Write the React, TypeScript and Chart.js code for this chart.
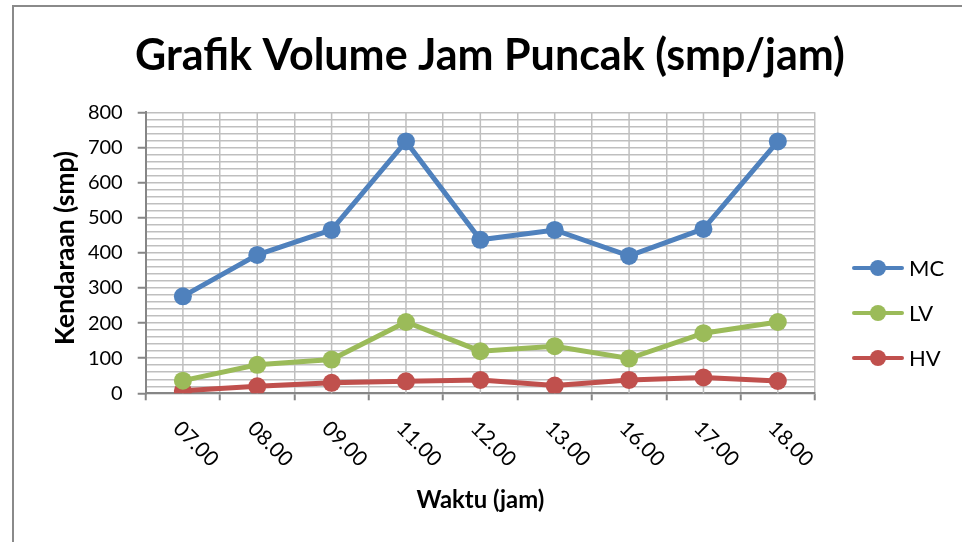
import React, { useEffect, useRef } from "react";
import { Chart, registerables } from "chart.js";

Chart.register(...registerables);

// ---- data ----
const categories = ["07.00", "08.00", "09.00", "11.00", "12.00", "13.00", "16.00", "17.00", "18.00"];
const mcValues = [276, 394, 465, 717, 437, 465, 391, 468, 717];
const lvValues = [36, 81, 96, 203, 120, 134, 99, 171, 203];
const hvValues = [7, 20, 30, 34, 38, 22, 38, 45, 35];
const seriesNames = ["MC", "LV", "HV"];
const seriesColors = ["#4F81BD", "#9BBB59", "#C0504D"];
const yTickLabels = [0, 100, 200, 300, 400, 500, 600, 700, 800];
const titleText = "Grafik Volume Jam Puncak (smp/jam)";
const xTitleText = "Waktu (jam)";
const yTitleText = "Kendaraan (smp)";

// ---- styles ----
const FONT = "Lato, 'Open Sans', sans-serif";
const GRID = "#bfbfbf";
const AXIS = "#868686";
const W = 962;
const H = 542;

function fitSize(ctx: CanvasRenderingContext2D, text: string, weight: string, target: number) {
  ctx.font = `${weight} 40px ${FONT}`;
  const w = ctx.measureText(text).width;
  return (40 * target) / w;
}

const decor = {
  id: "decor",
  beforeDraw(chart: any) {
    const ctx = chart.ctx;
    ctx.save();
    ctx.fillStyle = "#ffffff";
    ctx.fillRect(0, 0, chart.width, chart.height);
    ctx.restore();
  },
  beforeDatasetsDraw(chart: any) {
    const { ctx, chartArea } = chart;
    const x = chart.scales.x;
    ctx.save();
    ctx.strokeStyle = GRID;
    ctx.lineWidth = 1.5;
    categories.forEach((_, i) => {
      const px = x.getPixelForValue(i);
      ctx.beginPath();
      ctx.moveTo(px, chartArea.top);
      ctx.lineTo(px, chartArea.bottom);
      ctx.stroke();
    });
    ctx.restore();
  },
  afterDraw(chart: any) {
    const { ctx, chartArea } = chart;
    const x = chart.scales.x;
    ctx.save();

    // outer frame
    ctx.strokeStyle = "#8a8a8a";
    ctx.lineWidth = 2;
    ctx.beginPath();
    ctx.moveTo(13, H + 2);
    ctx.lineTo(13, 6);
    ctx.lineTo(W + 2, 6);
    ctx.stroke();

    ctx.fillStyle = "#000000";

    // title
    const ts = fitSize(ctx, titleText, "bold", 710);
    ctx.font = `bold ${ts}px ${FONT}`;
    ctx.textAlign = "center";
    ctx.textBaseline = "middle";
    ctx.fillText(titleText, 490, 56);

    // x axis title
    const xs = fitSize(ctx, xTitleText, "bold", 128);
    ctx.font = `bold ${xs}px ${FONT}`;
    ctx.fillText(xTitleText, (chartArea.left + chartArea.right) / 2, 500);

    // y axis title
    const ys = fitSize(ctx, yTitleText, "bold", 194);
    ctx.save();
    ctx.translate(65, 248);
    ctx.rotate(-Math.PI / 2);
    ctx.font = `bold ${ys}px ${FONT}`;
    ctx.fillText(yTitleText, 0, 0);
    ctx.restore();

    // x tick labels rotated 45deg clockwise
    ctx.font = `21px ${FONT}`;
    ctx.textAlign = "left";
    ctx.textBaseline = "middle";
    categories.forEach((lab, i) => {
      const px = x.getPixelForValue(i);
      ctx.save();
      ctx.translate(px - 6, 425);
      ctx.rotate(Math.PI / 4);
      ctx.fillText(lab, 0, 0);
      ctx.restore();
    });

    // legend
    const rows = [268, 313, 358];
    ctx.font = `22px ${FONT}`;
    seriesNames.forEach((name, i) => {
      const y = rows[i];
      ctx.strokeStyle = seriesColors[i];
      ctx.lineWidth = 4;
      ctx.lineCap = "round";
      ctx.beginPath();
      ctx.moveTo(854, y);
      ctx.lineTo(902, y);
      ctx.stroke();
      ctx.fillStyle = seriesColors[i];
      ctx.beginPath();
      ctx.arc(878, y, 8, 0, Math.PI * 2);
      ctx.fill();
      ctx.fillStyle = "#000000";
      ctx.fillText(name, 909, y + 1);
    });

    ctx.restore();
  },
};

export default function App() {
  const ref = useRef<HTMLCanvasElement | null>(null);

  useEffect(() => {
    document.body.style.margin = "0";
    const canvas = ref.current;
    if (!canvas) return;
    const seriesData = [mcValues, lvValues, hvValues];
    const chart = new Chart(canvas, {
      type: "line",
      data: {
        labels: categories,
        datasets: seriesNames.map((name, i) => ({
          label: name,
          data: seriesData[i],
          borderColor: seriesColors[i],
          backgroundColor: seriesColors[i],
          borderWidth: 5,
          pointRadius: 9,
          pointBorderWidth: 0,
          pointBackgroundColor: seriesColors[i],
          pointHoverRadius: 9,
          tension: 0,
          fill: false,
        })),
      },
      options: {
        animation: false,
        responsive: false,
        devicePixelRatio: 1,
        layout: { padding: { left: 0, top: 112.3, right: 147, bottom: 0 } },
        plugins: {
          legend: { display: false },
          title: { display: false },
          tooltip: { enabled: false },
        },
        scales: {
          x: {
            type: "category",
            offset: true,
            grid: {
              offset: true,
              color: GRID,
              lineWidth: 1.5,
              tickLength: 7,
              tickColor: AXIS,
              tickWidth: 2,
            },
            border: { color: AXIS, width: 2 },
            ticks: { display: false },
            afterFit: (s: any) => {
              s.height = H - 393.3;
            },
          },
          y: {
            min: 0,
            max: 800,
            ticks: {
              stepSize: 20,
              autoSkip: false,
              padding: 15,
              color: "#000000",
              font: { family: FONT, size: 20 },
              callback: (v: any) => (yTickLabels.includes(Number(v)) ? String(v) : ""),
            },
            grid: {
              color: GRID,
              lineWidth: 1.5,
              tickLength: 8,
              tickWidth: 2,
              tickColor: (c: any) =>
                c.tick && yTickLabels.includes(c.tick.value) ? AXIS : "rgba(0,0,0,0)",
            },
            border: { color: AXIS, width: 2 },
            afterFit: (s: any) => {
              s.width = 145.7;
            },
          },
        },
      },
      plugins: [decor],
    });
    return () => chart.destroy();
  }, []);

  return (
    <div style={{ position: "fixed", left: 0, top: 0, width: W, height: H, background: "#fff" }}>
      <canvas ref={ref} width={W} height={H} style={{ display: "block", width: W, height: H }} />
    </div>
  );
}
